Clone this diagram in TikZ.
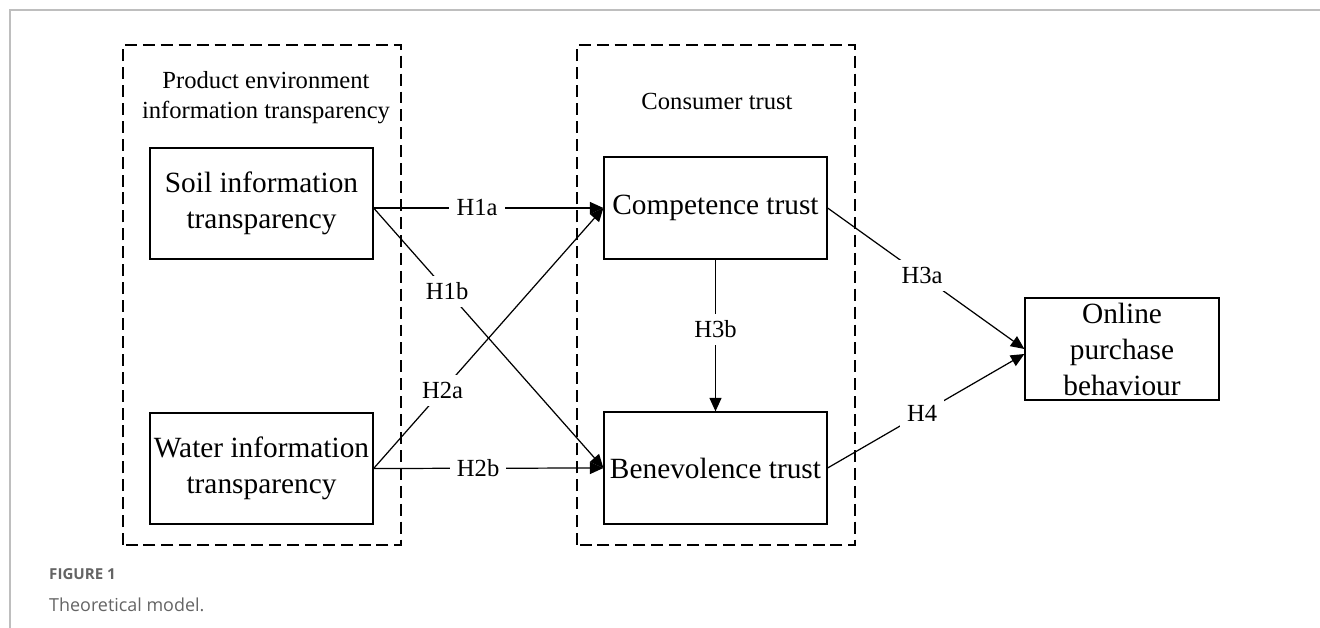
\documentclass[tikz,border=0pt]{standalone}
\usepackage{fontspec}
\setmainfont{Liberation Serif}
\newfontfamily\capfont{Open Sans}
\usetikzlibrary{arrows.meta}
\definecolor{framegray}{RGB}{190,190,190}
\definecolor{capgray}{RGB}{100,100,100}

\begin{document}
\begin{tikzpicture}[
  box/.style={draw,line width=0.7pt,minimum width=4.46cm,minimum height=2.2cm,inner sep=0pt,align=center,font=\fontsize{16.7pt}{20.5pt}\selectfont},
  group/.style={draw,line width=0.7pt,dash pattern=on 6.8pt off 3.4pt},
  link/.style={line width=0.7pt,-{Triangle[length=2.7mm,width=2.4mm]}},
  hyp/.style={fill=white,inner sep=4pt,font=\fontsize{14pt}{17pt}\selectfont},
  grouptitle/.style={align=center,font=\fontsize{14pt}{17pt}\selectfont}]
  \useasboundingbox (0,0) rectangle (26.4,12.56);
  % page frame
  \draw[framegray,line width=0.8pt] (0.2,0) -- (0.2,12.36) -- (26.4,12.36);
  % groups
  \draw[group] (2.46,1.66) rectangle (8.02,11.66);
  \draw[group] (11.54,1.66) rectangle (17.10,11.66);
  \node[grouptitle] (envtitle) at (5.32,10.6) {Product environment\\information transparency};
  \node[grouptitle,anchor=base] (trusttitle) at (14.34,10.36) {Consumer trust};
  % constructs
  \node[box,minimum height=2.22cm] (soil) at (5.23,8.49) {Soil information\\transparency};
  \node[box,minimum height=2.22cm] (water) at (5.23,3.19) {Water information\\transparency};
  \node[box,minimum height=2.04cm] (comp) at (14.31,8.40) {Competence trust};
  \node[box,minimum height=2.24cm] (bene) at (14.31,3.20) {Benevolence trust};
  \node[box,minimum width=3.88cm,minimum height=2.04cm] (buy) at (22.44,5.58) {Online\\purchase\\behaviour};
  % hypotheses
  \draw[link] (soil.east |- comp.west) -- node[hyp,pos=0.45] (h1a) {H1a} (comp.west);
  \draw[link] (soil.east |- comp.west) -- node[hyp,pos=0.32] (h1b) {H1b} (bene.west);
  \draw[link] (water.east) -- node[hyp,pos=0.30] (h2a) {H2a} (comp.west);
  \draw[link] (water.east) -- node[hyp,pos=0.455] (h2b) {H2b} (bene.west);
  \draw[link] (comp.south) -- node[hyp,pos=0.46] (h3b) {H3b} (bene.north);
  \draw[link] (comp.east) -- node[hyp,pos=0.48] (h3a) {H3a} (buy.west);
  \draw[link] (bene.east) -- node[hyp,pos=0.48] (h4) {H4} ([yshift=-1mm]buy.west);
  % caption
  \node[anchor=base west,text=capgray,font=\capfont\fontsize{8.6pt}{10pt}\selectfont\bfseries] (figno) at (0.86,0.96) {FIGURE 1};
  \node[anchor=base west,text=capgray,font=\capfont\fontsize{10.2pt}{12pt}\selectfont] (figcap) at (0.86,0.32) {Theoretical model.};
\end{tikzpicture}
\end{document}
